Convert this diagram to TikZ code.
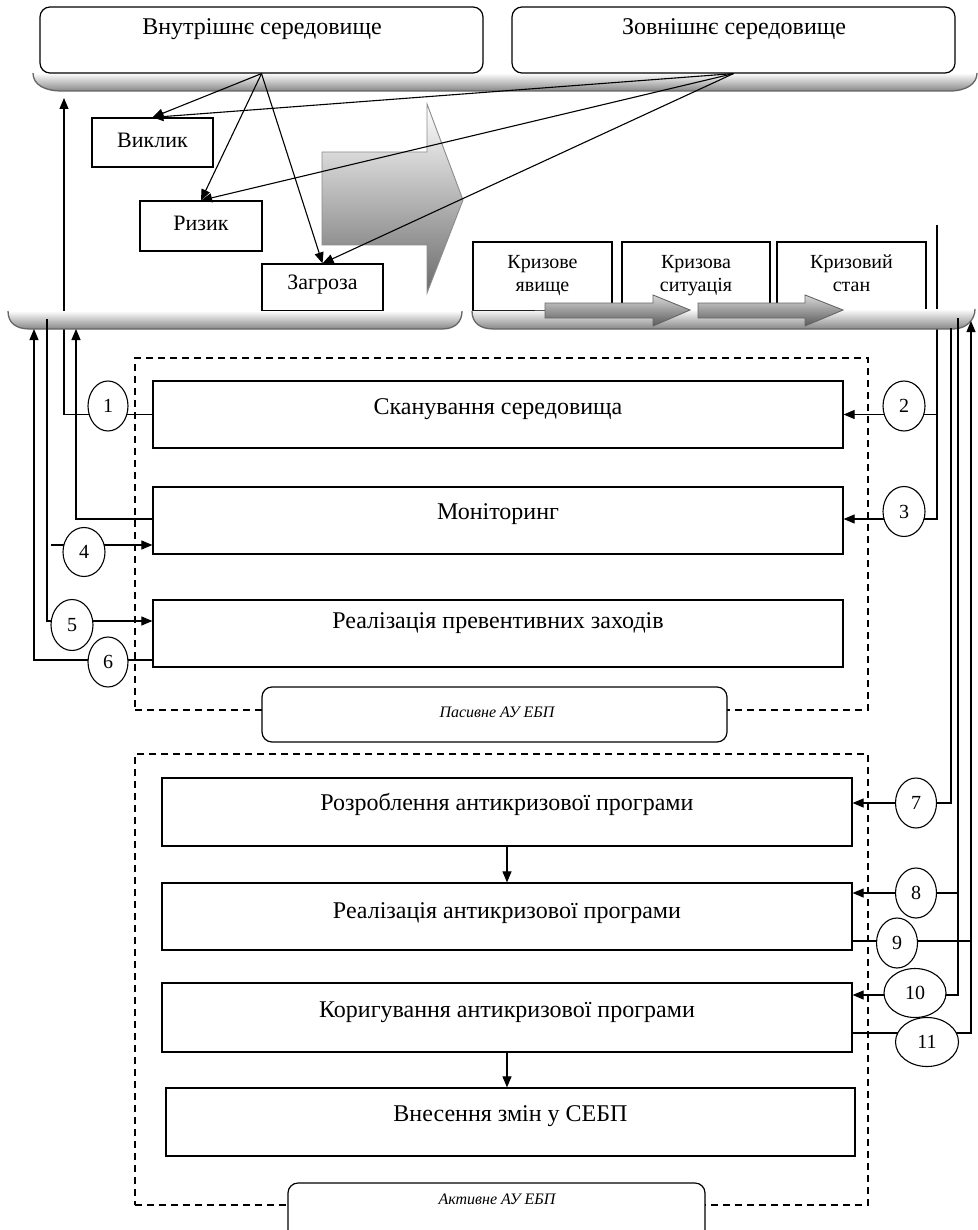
\documentclass[tikz,border=0pt]{standalone}
\usepackage{fontspec}
\setmainfont{Liberation Serif}
\usetikzlibrary{arrows.meta,shapes.geometric,calc}
\newcommand\fbig{\fontsize{24}{28}\selectfont}
\newcommand\fmid{\fontsize{22}{25}\selectfont}
\newcommand\fsml{\fontsize{20}{23}\selectfont}
\newcommand\fnum{\fontsize{20}{22}\selectfont}
\newcommand\fital{\fontsize{16}{19}\selectfont\itshape}
\begin{document}
\begin{tikzpicture}[x=1pt,y=-1pt,line width=1.1pt,
  arr/.style={-{Triangle[length=11pt,width=9pt]}},
  box/.style={draw,rectangle,inner sep=0pt,line width=1.2pt,fill=white},
  envbox/.style={draw,rounded corners=10pt,inner sep=0pt,line width=1.2pt,fill=white},
  txt/.style={inner sep=0pt,align=center},
  crtxt/.style={inner sep=0pt,align=center,font=\fsml,text height=39pt,text depth=5pt},
  num/.style={draw,ellipse,fill=white,inner sep=0pt,line width=1.1pt,font=\fnum},
  frame/.style={draw,dash pattern=on 7pt off 5pt,line width=1.4pt,inner sep=0pt},
  shelf/.style={top color=white,bottom color=black!47},
  shelfedge/.style={draw=black!60,line width=1.3pt},
  garrow/.style={top color=black!15,bottom color=black!65,draw=black!60,line width=0.9pt},
  bigarrow/.style={top color=white,bottom color=black!58,draw=black!45,line width=0.9pt},
]
\useasboundingbox (0,0) rectangle (977,1230);
\fill[white] (0,0) rectangle (977,1230);

% dashed frames
\node[frame, minimum width=733pt, minimum height=352pt] (pasfr) at (501.5,534) {};
\node[frame, minimum width=733pt, minimum height=451pt] (actfr) at (501.5,979.5) {};

% passive boxes
\node[box, minimum width=690pt, minimum height=67pt] (scan) at (498,414.5) {};
\node[txt,font=\fbig] (scanT) at (498,409) {Сканування середовища};
\node[box, minimum width=690pt, minimum height=67pt] (mon) at (498,520.5) {};
\node[txt,font=\fbig] (monT) at (498,514) {Моніторинг};
\node[box, minimum width=690pt, minimum height=67pt] (prev) at (498,633.5) {};
\node[txt,font=\fbig] (prevT) at (498,623) {Реалізація превентивних заходів};

% active boxes
\node[box, minimum width=690pt, minimum height=68pt] (dev) at (507,812) {};
\node[txt,font=\fbig] (devT) at (507,804) {Розроблення антикризової програми};
\node[box, minimum width=690pt, minimum height=67pt] (real) at (507,916.5) {};
\node[txt,font=\fbig] (realT) at (507,913) {Реалізація антикризової програми};
\node[box, minimum width=690pt, minimum height=69pt] (corr) at (507,1017.5) {};
\node[txt,font=\fbig] (corrT) at (507,1012) {Коригування антикризової програми};
\node[box, minimum width=689pt, minimum height=68pt] (vnes) at (510.5,1122) {};
\node[txt,font=\fbig] (vnesT) at (510.5,1116) {Внесення змін у СЕБП};

% connectors that pass under the shelves
\coordinate (t1) at (64,98);
\coordinate (v0) at (937,225);
\draw[arr] (scan.west) -| (t1);
\draw[arr] (v0) |- (scan.east);
\draw[arr] (v0) |- ([yshift=1.5pt]mon.east);

% top shelf and environment boxes
\shade[shelf] (33,73) .. controls (33,85) and (45,91) .. (62,91) -- (950,91) .. controls (966,91) and (977,84) .. (977,73) -- cycle;
\draw[shelfedge] (33,73) .. controls (33,85) and (45,91) .. (62,91) -- (950,91) .. controls (966,91) and (977,84) .. (977,73);
\node[envbox, minimum width=443pt, minimum height=66pt] (inner) at (261.5,40) {};
\node[txt,font=\fbig] (innerT) at (262,29) {Внутрішнє середовище};
\node[envbox, minimum width=443pt, minimum height=66pt] (outer) at (733.5,40) {};
\node[txt,font=\fbig] (outerT) at (734,29) {Зовнішнє середовище};

% big grey arrow
\shadedraw[bigarrow] (322,152) -- (427,152) -- (427,104) -- (463,200) -- (427,293) -- (427,245) -- (322,245) -- cycle;

% challenge / risk / threat
\node[box, minimum width=121pt, minimum height=49pt] (vyk) at (152.5,142.5) {};
\node[txt,font=\fmid] (vykT) at (152.5,140) {Виклик};
\node[box, minimum width=122pt, minimum height=50pt] (ryz) at (201,226) {};
\node[txt,font=\fmid] (ryzT) at (201,223) {Ризик};
\node[box, minimum width=121pt, minimum height=47pt] (zag) at (322.5,287.5) {};
\node[txt,font=\fmid] (zagT) at (322.5,285) {Загроза};

% crisis boxes
\node[box, minimum width=139pt, minimum height=69pt] (cr1) at (542.5,276.5) {};
\node[crtxt] (cr1T) at (542.5,274) {Кризове\\явище};
\node[box, minimum width=148pt, minimum height=69pt] (cr2) at (696,276.5) {};
\node[crtxt] (cr2T) at (696,274) {Кризова\\ситуація};
\node[box, minimum width=149pt, minimum height=69pt] (cr3) at (851.5,276.5) {};
\node[crtxt] (cr3T) at (851.5,274) {Кризовий\\стан};

% lower shelves
\shade[shelf] (8,311) .. controls (8,323) and (16,329) .. (30,329) -- (442,329) .. controls (455,329) and (462,322) .. (462,311) -- cycle;
\draw[shelfedge] (8,311) .. controls (8,323) and (16,329) .. (30,329) -- (442,329) .. controls (455,329) and (462,322) .. (462,311);
\shade[shelf] (472,311) .. controls (472,323) and (480,329) .. (494,329) -- (953,329) .. controls (966,329) and (975,320) .. (975,309) -- cycle;
\draw[shelfedge] (472,311) .. controls (472,323) and (480,329) .. (494,329) -- (953,329) .. controls (966,329) and (975,320) .. (975,309);

% grey process arrows
\shadedraw[garrow] (545,303) -- (653,303) -- (653,295) -- (690,310) -- (653,326) -- (653,318) -- (545,318) -- cycle;
\shadedraw[garrow] (698,303) -- (805,303) -- (805,295) -- (843,310) -- (805,326) -- (805,318) -- (698,318) -- cycle;

% environment arrows
\foreach \t in {vyk,ryz,zag}{
  \draw[arr] (inner.south) -- (\t.north);
  \draw[arr] (outer.south) -- (\t.north);
}

% left connectors
\coordinate (t2) at (76,329);
\coordinate (s4) at (51,545);
\coordinate (s5) at (47,319);
\coordinate (t6) at (34,329);
\draw[arr] ([yshift=1.5pt]mon.west) -| (t2);
\draw[arr] (s4) -- (s4 -| mon.west);
\draw[arr] (s5) |- ([yshift=12.5pt]prev.west);
\draw[arr] ([yshift=-26.5pt]prev.west) -| (t6);

% right connectors
\coordinate (s7) at (951,328);
\coordinate (s8) at (958,318);
\coordinate (b8) at (958,893);
\coordinate (t9) at (971,321);
\coordinate (a9) at ([yshift=-24.5pt]real.east);
\draw[arr] (s7) |- ([yshift=9pt]dev.east);
\draw[arr] (b8) -- (b8 -| real.east);
\draw[arr] (s8) |- ([yshift=22.5pt]corr.east);
\draw[arr] ([yshift=-15.5pt]corr.east) -| (t9);
\draw (a9) -- (a9 -| t9);

% vertical flow arrows
\draw[arr] (dev.south) -- (real.north);
\draw[arr] (corr.south) -- (corr.south |- vnes.north);

% numbered ellipses
\node[num, minimum width=40pt, minimum height=50pt] (n1) at (108,406) {1};
\node[num, minimum width=42pt, minimum height=50pt] (n2) at (904,406) {2};
\node[num, minimum width=42pt, minimum height=50pt] (n3) at (904,511.5) {3};
\node[num, minimum width=42pt, minimum height=49pt] (n4) at (84,552) {4};
\node[num, minimum width=42pt, minimum height=51pt] (n5) at (72,625) {5};
\node[num, minimum width=40pt, minimum height=50pt] (n6) at (108,662) {6};
\node[num, minimum width=41pt, minimum height=50pt] (n7) at (916,803) {7};
\node[num, minimum width=41pt, minimum height=50pt] (n8) at (916,893) {8};
\node[num, minimum width=41pt, minimum height=50pt] (n9) at (897,943) {9};
\node[num, minimum width=62pt, minimum height=49pt] (n10) at (915,993) {10};
\node[num, minimum width=63pt, minimum height=49pt] (n11) at (927,1042) {11};

% frame labels
\node[envbox, minimum width=465pt, minimum height=55pt] (paslbl) at (494.5,714.5) {};
\node[txt,font=\fital] (paslblT) at (497,712) {Пасивне АУ ЕБП};
\node[envbox, minimum width=417pt, minimum height=57pt] (actlbl) at (496.5,1211.5) {};
\node[txt,font=\fital] (actlblT) at (497,1199) {Активне АУ ЕБП};
\end{tikzpicture}
\end{document}
